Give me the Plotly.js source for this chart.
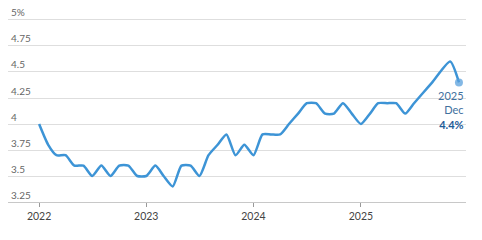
<!DOCTYPE html>
<html>
<head>
<meta charset="utf-8">
<script src="https://cdn.plot.ly/plotly-3.0.1.min.js"></script>
<style>html,body{margin:0;padding:0;background:#fff;}#chart{width:482px;height:240px;}</style>
</head>
<body>
<div id="chart"></div>
<script>
// Monthly unemployment rate (%), Jan 2022 - Dec 2025 (Oct 2025 not reported)
var months = [
  '2022-01-01','2022-02-01','2022-03-01','2022-04-01','2022-05-01','2022-06-01','2022-07-01','2022-08-01','2022-09-01','2022-10-01','2022-11-01','2022-12-01',
  '2023-01-01','2023-02-01','2023-03-01','2023-04-01','2023-05-01','2023-06-01','2023-07-01','2023-08-01','2023-09-01','2023-10-01','2023-11-01','2023-12-01',
  '2024-01-01','2024-02-01','2024-03-01','2024-04-01','2024-05-01','2024-06-01','2024-07-01','2024-08-01','2024-09-01','2024-10-01','2024-11-01','2024-12-01',
  '2025-01-01','2025-02-01','2025-03-01','2025-04-01','2025-05-01','2025-06-01','2025-07-01','2025-08-01','2025-09-01','2025-11-01','2025-12-01'
];
var rates = [
  4.0,3.8,3.7,3.7,3.6,3.6,3.5,3.6,3.5,3.6,3.6,3.5,
  3.5,3.6,3.5,3.4,3.6,3.6,3.5,3.7,3.8,3.9,3.7,3.8,
  3.7,3.9,3.9,3.9,4.0,4.1,4.2,4.2,4.1,4.1,4.2,4.1,
  4.0,4.1,4.2,4.2,4.2,4.1,4.2,4.3,4.4,4.6,4.4
];
var yTickVals = [3.25,3.5,3.75,4,4.25,4.5,4.75,5];
var yTickText = ['3.25','3.5','3.75','4','4.25','4.5','4.75','5%'];
var xTickVals = ['2022-01-01','2023-01-01','2024-01-01','2025-01-01'];
var xTickText = ['2022','2023','2024','2025'];
var lastLabel = {year:'2025', month:'Dec', value:'4.4%'};

var last = months.length - 1;
var traces = [
  {x: months, y: rates, type:'scatter', mode:'lines',
   line:{color:'#3d94d6', width:2.5, shape:'spline', smoothing:0.6},
   hoverinfo:'skip'},
  {x:[months[last]], y:[rates[last]], type:'scatter', mode:'markers',
   marker:{size:8, color:'rgba(90,160,220,0.75)'}, hoverinfo:'skip'}
];
var layout = {
  width:482, height:240,
  margin:{l:8, r:16, t:2, b:38},
  paper_bgcolor:'#fff', plot_bgcolor:'#fff',
  showlegend:false,
  font:{family:'Lato, "Open Sans", sans-serif', color:'#555', size:10},
  xaxis:{type:'date', range:['2021-09-17','2025-12-25'],
    tickvals:xTickVals, ticktext:xTickText,
    showgrid:false, zeroline:false, showline:true, linecolor:'#c8c8c8', linewidth:1,
    ticks:'outside', ticklen:4, tickcolor:'#999', tickwidth:1,
    tickfont:{size:10.5, color:'#444'}},
  yaxis:{range:[3.25, 5.173], tickvals:yTickVals, ticktext:yTickText,
    ticklabelposition:'inside top', showgrid:true, gridcolor:'#dedede', gridwidth:1,
    zeroline:false, showline:false, ticks:'',
    tickfont:{size:10, color:'#666'}},
  annotations:[{
    xref:'paper', x:1, xanchor:'right',
    yref:'y', y:rates[last], yanchor:'top', yshift:-5,
    text:lastLabel.year+'<br>'+lastLabel.month+'<br><b><span style="color:#1d5c99">'+lastLabel.value+'</span></b>',
    showarrow:false, align:'right',
    font:{size:11, color:'#3f709e'}
  }]
};
Plotly.newPlot('chart', traces, layout, {displayModeBar:false, staticPlot:true});
</script>
</body>
</html>
